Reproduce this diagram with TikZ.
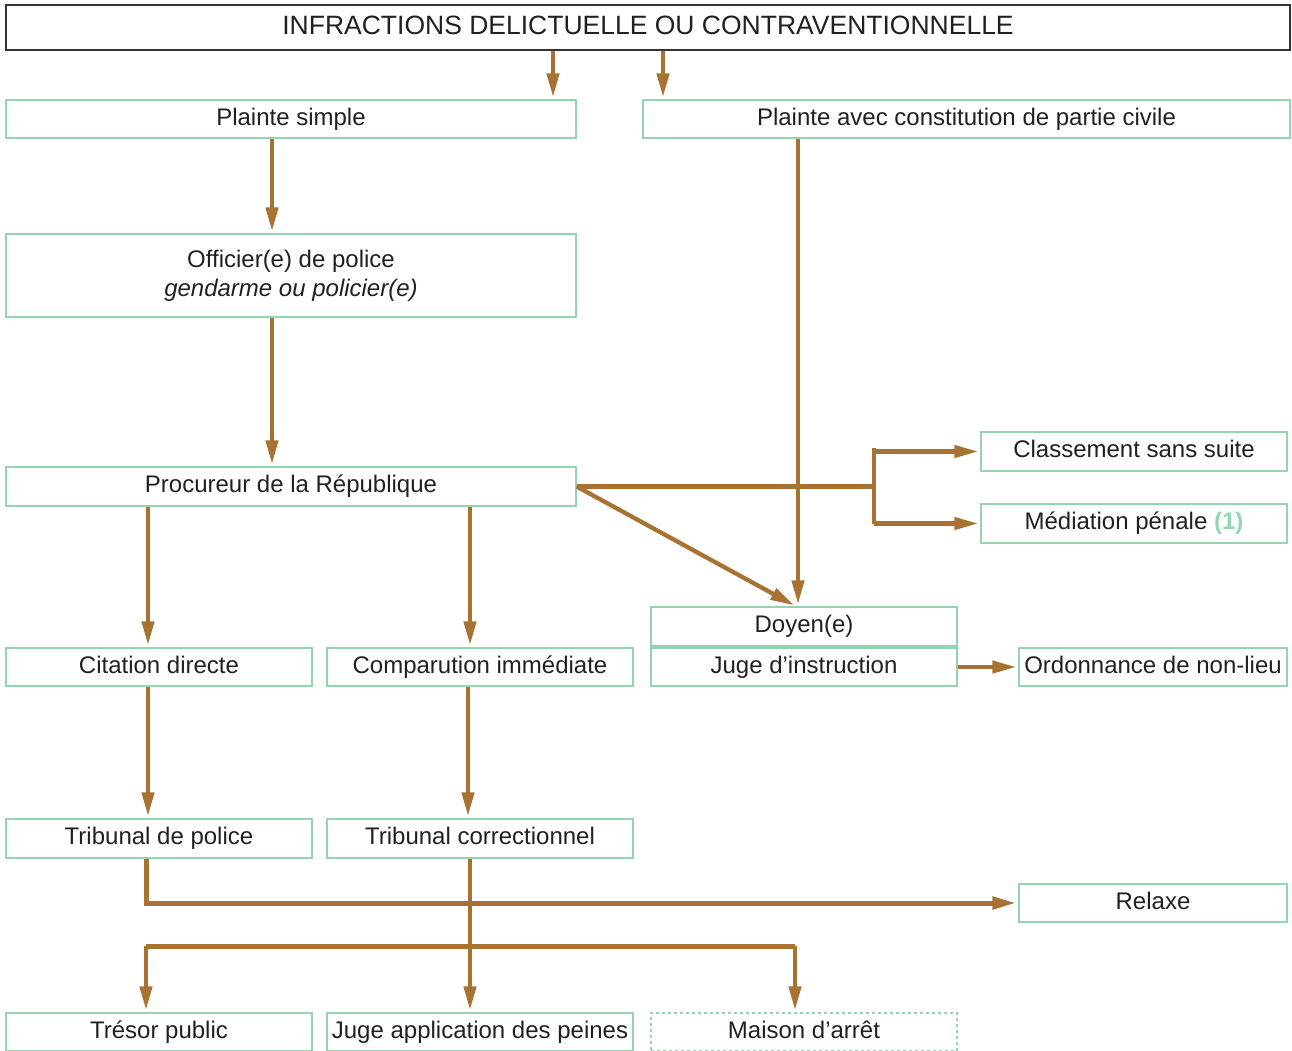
\documentclass[tikz,border=0pt]{standalone}
\usepackage{fontspec}
\setmainfont{Liberation Sans}
\usetikzlibrary{arrows.meta}
\definecolor{brownc}{HTML}{A87332}
\definecolor{greenc}{HTML}{93D5AE}
\definecolor{txt}{HTML}{231F20}
\tikzset{
  box/.style={draw=greenc, line width=1.3pt, text=txt, inner sep=0pt, align=center,
    font=\fontsize{24}{29}\selectfont, text height=17pt, text depth=5pt},
  ln/.style={draw=brownc, line width=4.3pt},
  arr/.style={ln, -{Triangle[length=24pt,width=12pt]}, shorten >=2pt},
}
\newcommand{\bx}[6]{% name, x1, y1, x2, y2, text
  \node[box, minimum width=#4pt-#2pt, minimum height=#5pt-#3pt] (#1) at ({(#2+#4)/2},{(#3+#5)/2}) {#6};}
\begin{document}
\begin{tikzpicture}[x=1pt,y=-1pt]
\useasboundingbox (0,0) rectangle (1292,1050);
\clip (0,0) rectangle (1292,1050);
% title
\node[draw=black!80, line width=1.3pt, text=txt, inner sep=0pt, font=\fontsize{26.5}{30}\selectfont,
  minimum width=1284pt, minimum height=45pt, text height=19pt, text depth=5pt] (title) at (648,27.5)
  {INFRACTIONS DELICTUELLE OU CONTRAVENTIONNELLE};
\bx{ps}{6}{100}{576}{138}{Plainte simple}
\bx{pa}{643}{100}{1290}{138}{Plainte avec constitution de partie civile}
\node[box, minimum width=570pt, minimum height=83pt, text height=, text depth=] (off) at (291,275.5)
  {Officier(e) de police\\\textit{gendarme ou policier(e)}};
\bx{pr}{6}{467}{576}{506}{Procureur de la République}
\bx{cl}{981}{432}{1287}{471}{Classement sans suite}
\bx{med}{981}{504}{1287}{543}{Médiation pénale \textcolor{greenc}{\textbf{(1)}}}
\bx{doy}{651}{607}{957}{646}{Doyen(e)}
\bx{ji}{651}{648}{957}{686}{Juge d’instruction}
\bx{ord}{1019}{648}{1287}{686}{Ordonnance de non-lieu}
\bx{cd}{6}{648}{312}{686}{Citation directe}
\bx{ci}{327}{648}{633}{686}{Comparution immédiate}
\bx{tp}{6}{819}{312}{858}{Tribunal de police}
\bx{tc}{327}{819}{633}{858}{Tribunal correctionnel}
\bx{rel}{1019}{884}{1287}{922}{Relaxe}
\bx{tres}{6}{1013}{312}{1051}{Trésor public}
\bx{jap}{327}{1013}{633}{1051}{Juge application des peines}
\node[box, dashed, minimum width=306pt, minimum height=38pt] (mai) at (804,1032) {Maison d’arrêt};
% connectors
\draw[arr] (553,0 |- title.south) -- (553,0 |- ps.north);
\draw[arr] (663,0 |- title.south) -- (663,0 |- pa.north);
\draw[arr] (272,0 |- ps.south) -- (272,0 |- off.north);
\draw[arr] (272,0 |- off.south) -- (272,0 |- pr.north);
\draw[arr] (798,0 |- pa.south) -- (798,0 |- doy.north);
\draw[ln] (pr.east) -- (874,0 |- pr.east);
\draw[ln, line cap=rect] (874,450) -- (874,522);
\draw[arr] (874,0 |- cl.west) -- (cl.west);
\draw[arr] (874,0 |- med.west) -- (med.west);
\draw[arr] (pr.east) -- (796,0 |- doy.north);
\draw[arr] (148,0 |- pr.south) -- (148,0 |- cd.north);
\draw[arr] (470,0 |- pr.south) -- (470,0 |- ci.north);
\draw[arr] (ji.east) -- (ord.west);
\draw[arr] (148,0 |- cd.south) -- (148,0 |- tp.north);
\draw[arr] (468,0 |- ci.south) -- (468,0 |- tc.north);
\draw[arr, line width=5pt] (146,0 |- tp.south) -- (146,0 |- rel.west) -- (rel.west);
\draw[arr] (470,0 |- tc.south) -- (470,0 |- jap.north);
\draw[ln, line width=5pt] (146,946) -- (795,946);
\draw[arr] (146,946) -- (146,0 |- tres.north);
\draw[arr] (795,946) -- (795,0 |- mai.north);
\end{tikzpicture}
\end{document}
